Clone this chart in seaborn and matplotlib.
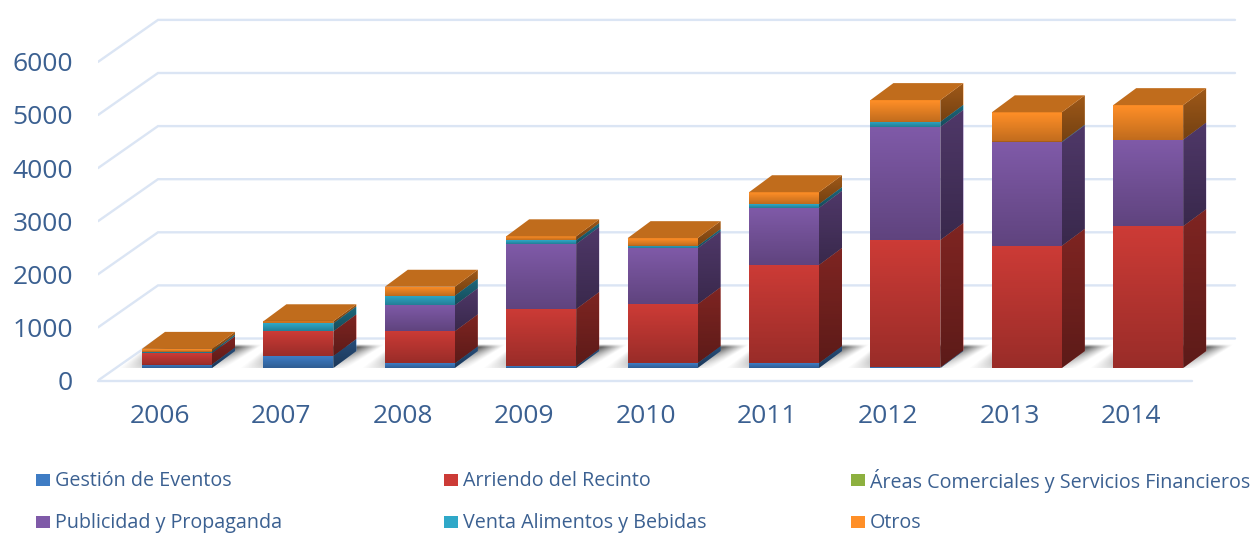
import numpy as np
import matplotlib
matplotlib.use('Agg')
import matplotlib.pyplot as plt
from matplotlib.patches import Polygon, Rectangle
from matplotlib.transforms import ScaledTranslation
import seaborn as sns

years = ['2006', '2007', '2008', '2009', '2010', '2011', '2012', '2013', '2014']
gestion = [65, 225, 85, 35, 90, 90, 10, 0, 0]
arriendo = [210, 465, 605, 1075, 1110, 1850, 2400, 2300, 2670]
areas = [0, 0, 0, 0, 0, 0, 0, 0, 0]
publicidad = [5, 0, 490, 1225, 1055, 1075, 2130, 1950, 1630]
venta = [30, 150, 180, 70, 40, 70, 95, 10, 0]
otros = [50, 40, 170, 75, 150, 225, 410, 555, 650]
y_ticks = [0, 1000, 2000, 3000, 4000, 5000, 6000]

names = ['Gestión de Eventos', 'Arriendo del Recinto', 'Áreas Comerciales y Servicios Financieros',
         'Publicidad y Propaganda', 'Venta Alimentos y Bebidas', 'Otros']
colors = ['#3e7cc4', '#cc3b36', '#8db03f', '#7f5aa8', '#2fa8c8', '#ff8f27']
top_color = '#c06c1c'
grid_color = '#dbe5f4'
text_color = '#3b6091'

W, H = 1256, 533
PX = 53.1 / 1000  # pixels per unit

sns.set_theme(style='white')
plt.rcParams['font.family'] = ['Open Sans', 'DejaVu Sans']

fig = plt.figure(figsize=(W / 100, H / 100), dpi=100)


def px_axes(left, right, y0, y1):
    return fig.add_axes([left / W, 1 - y0 / H, (right - left) / W, (y0 - y1) / H])


# pared y lineas de fondo
wall = px_axes(98, W, 380.5, 8)
wall.set_xlim(98, W)
wall.set_ylim(0, 372.5 / PX)
for v in y_ticks:
    back = v + 42 / PX
    wall.plot([98, 158, 1235], [v, back, back], color=grid_color, lw=1.7, solid_joinstyle='miter')
wall.plot([98, 1192], [0, 0], color=grid_color, lw=1.7, clip_on=False)
wall.set_yticks(y_ticks)
wall.set_xticks([])
wall.tick_params(axis='y', length=0, pad=18, labelsize=19, labelcolor=text_color)
sns.despine(ax=wall, left=True, bottom=True)

# barras
ax = px_axes(98, W, 368, 8)
ax.patch.set_alpha(0)
dx = 23 / 121.4
dy = 17 / PX
series = [gestion, arriendo, areas, publicidad, venta, otros]
cum = np.cumsum(series, axis=0)


def fade(box, a0, a1, clip, z):
    arr = np.zeros((64, 2, 4))
    arr[:, :, 3] = np.linspace(a0, a1, 64)[:, None]
    im = ax.imshow(arr, extent=box, aspect='auto', zorder=z, interpolation='bilinear')
    if clip is not None:
        im.set_clip_path(clip)


def shadow(l, r):
    # sombra difusa en el piso
    ux = 1 / 121.4
    yy, xx = np.mgrid[0:1:60j, 0:1:160j]
    x0, x1 = l - 50 * ux, r + 70 * ux
    xp = x0 + xx * (x1 - x0)
    left = (l + 8 * ux) + yy * (-38 * ux)
    right = (r + 52 * ux) + yy * (-46 * ux)
    soft = 22 * ux
    edge = np.clip((xp - left) / soft, 0, 1) * np.clip((right - xp) / soft, 0, 1)
    top = np.clip(yy / 0.1, 0, 1)
    arr = np.zeros((60, 160, 4))
    arr[:, :, :3] = 0.25
    arr[:, :, 3] = edge * top * np.clip(1.0 - yy, 0, 1) ** 0.9 * 0.9
    ax.imshow(arr, extent=(x0, x1, -5 / PX, 24 / PX), aspect='auto', zorder=1, interpolation='bilinear')


ax.autoscale(False)
for i in range(len(series) - 1, -1, -1):
    sns.barplot(x=years, y=cum[i], color=colors[i], saturation=1, width=70 / 121.4,
                linewidth=0, zorder=4, ax=ax)
    for j, p in enumerate(ax.containers[-1].patches):
        l, r = p.get_x(), p.get_x() + p.get_width()
        t = p.get_height()
        b = cum[i - 1][j] if i > 0 else 0
        if i == 0:
            shadow(l, r)
        if t - b <= 0:
            continue
        fade((l, r, b, t), 0, 0.25, None, 5)
        side = Polygon([(r, b), (r + dx, b + dy), (r + dx, t + dy), (r, t)], facecolor=colors[i],
                       edgecolor='none', zorder=2)
        ax.add_patch(side)
        fade((r, r + dx, b, t + dy), 0.38, 0.55, side, 3)

# tapa superior
for j, p in enumerate(ax.containers[0].patches):
    l, r = p.get_x(), p.get_x() + p.get_width()
    t = cum[-1][j]
    ax.add_patch(Polygon([(l, t), (r, t), (r + dx, t + dy), (l + dx, t + dy)], facecolor=top_color,
                         edgecolor='none', zorder=4))

ax.set_xlim((98 - 177) / 121.4, (W - 177) / 121.4)
ax.set_ylim(0, 360 / PX)
ax.set(xlabel='', ylabel='')
ax.set_yticks([])
ax.tick_params(axis='x', length=0, pad=26, labelsize=19, labelcolor=text_color)
for lab in ax.get_xticklabels():
    lab.set_transform(lab.get_transform() + ScaledTranslation(-17 / 100, 0, fig.dpi_scale_trans))
sns.despine(ax=ax, left=True, bottom=True)

# leyenda
col_x = [36, 444, 851]
row_y = [480, 522]
for k, name in enumerate(names):
    x, y = col_x[k % 3], row_y[k // 3]
    fig.add_artist(Rectangle((x / W, 1 - (y + 6) / H), 14 / W, 12 / H, transform=fig.transFigure,
                             facecolor=colors[k], edgecolor='none'))
    fig.text((x + 19) / W, 1 - (y + 1) / H, name, va='center', ha='left', fontsize=14.2, color=text_color)

fig.savefig('out.png', dpi=100)
